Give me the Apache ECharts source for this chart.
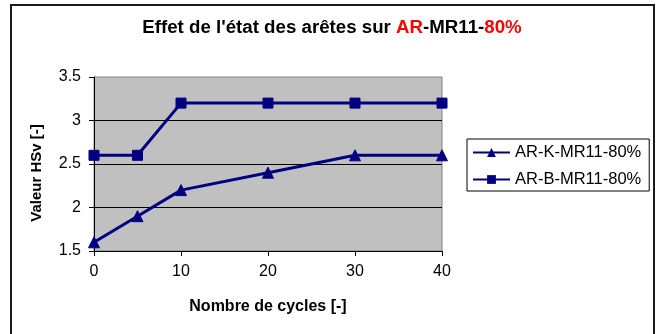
<!DOCTYPE html>
<html>
<head>
<meta charset="utf-8">
<script src="https://cdn.jsdelivr.net/npm/echarts@6/dist/echarts.min.js"></script>
<style>
  html, body { margin: 0; padding: 0; background: #fff; }
  #chart { width: 664px; height: 334px; }
</style>
</head>
<body>
<div id="chart"></div>
<script>
// Number of cycles (x) and HSv values for each edge condition
const cycles = [0, 5, 10, 20, 30, 40];
const hsvK = [1.6, 1.9, 2.2, 2.4, 2.6, 2.6];
const hsvB = [2.6, 2.6, 3.2, 3.2, 3.2, 3.2];
const seriesNames = ['AR-K-MR11-80%', 'AR-B-MR11-80%'];

const FONT = '"Liberation Sans", Arial, sans-serif';
const NAVY = '#000080';

const pairs = (xs, ys) => xs.map((x, i) => [x, ys[i]]);

const chart = echarts.init(document.getElementById('chart'), null, { renderer: 'canvas' });

chart.setOption({
  animation: false,
  backgroundColor: '#ffffff',
  textStyle: { fontFamily: FONT },
  title: {
    left: 'center',
    top: 18,
    padding: 0,
    text: '{k|Effet de l\'état des arêtes sur }{r|AR}{k|-MR11-}{r|80%}',
    textStyle: {
      rich: {
        k: { fontFamily: FONT, fontWeight: 'bold', fontSize: 18.7, color: '#000' },
        r: { fontFamily: FONT, fontWeight: 'bold', fontSize: 18.7, color: '#ff0000' }
      }
    }
  },
  grid: {
    left: 94,
    right: 222,
    top: 77,
    bottom: 83,
    show: true,
    backgroundColor: '#c0c0c0',
    borderColor: '#808080',
    borderWidth: 1
  },
  legend: {
    orient: 'vertical',
    left: 467,
    top: 139,
    padding: [5, 8, 3, 5],
    itemGap: 10,
    itemWidth: 37,
    itemHeight: 11,
    borderColor: '#000',
    borderWidth: 1,
    backgroundColor: '#fff',
    textStyle: { fontFamily: FONT, fontSize: 16.5, color: '#000' },
    data: seriesNames
  },
  xAxis: {
    type: 'value',
    min: 0,
    max: 40,
    interval: 10,
    axisLine: { show: true, lineStyle: { color: '#000', width: 1 } },
    axisTick: { show: true, inside: false, length: 5, lineStyle: { color: '#000' } },
    axisLabel: { margin: 13, fontFamily: FONT, fontSize: 16, color: '#000' },
    splitLine: { show: false },
    name: 'Nombre de cycles [-]',
    nameLocation: 'middle',
    nameGap: 48,
    nameTextStyle: { fontFamily: FONT, fontWeight: 'bold', fontSize: 16, color: '#000' }
  },
  yAxis: {
    type: 'value',
    min: 1.5,
    max: 3.5,
    interval: 0.5,
    axisLine: { show: true, lineStyle: { color: '#000', width: 1 } },
    axisTick: { show: true, inside: false, length: 5, lineStyle: { color: '#000' } },
    axisLabel: { margin: 13, fontFamily: FONT, fontSize: 16, color: '#000' },
    splitLine: { show: true, showMaxLine: false, showMinLine: false, lineStyle: { color: '#000', width: 1 } }
  },
  graphic: [
    {
      type: 'text',
      x: 37,
      y: 173,
      rotation: Math.PI / 2,
      style: {
        text: 'Valeur HSv [-]',
        fontFamily: FONT,
        fontWeight: 'bold',
        fontSize: 15,
        fill: '#000',
        align: 'center',
        verticalAlign: 'middle'
      }
    },
    {
      type: 'rect',
      shape: { x: 11, y: 5, width: 643, height: 340 },
      style: { fill: 'none', stroke: '#1a1a1a', lineWidth: 2 },
      silent: true
    }
  ],
  series: [
    {
      name: seriesNames[0],
      type: 'line',
      data: pairs(cycles, hsvK),
      symbol: 'triangle',
      symbolSize: 11,
      showAllSymbol: true,
      lineStyle: { color: NAVY, width: 3 },
      itemStyle: { color: NAVY, borderColor: NAVY },
      z: 3
    },
    {
      name: seriesNames[1],
      type: 'line',
      data: pairs(cycles, hsvB),
      symbol: 'rect',
      symbolSize: 10,
      showAllSymbol: true,
      lineStyle: { color: NAVY, width: 3 },
      itemStyle: { color: NAVY, borderColor: NAVY },
      z: 3
    }
  ]
});
</script>
</body>
</html>
